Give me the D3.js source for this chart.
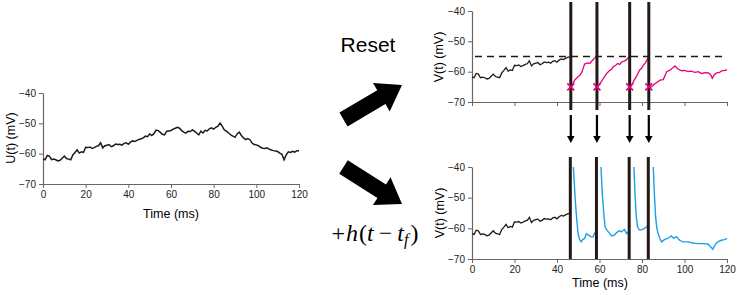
<!DOCTYPE html>
<html><head><meta charset="utf-8">
<script src="https://cdn.jsdelivr.net/npm/d3@7"></script>
<style>body{margin:0;background:#fff}svg{display:block}</style></head>
<body><svg id="c" width="737" height="295"></svg>
<script>
// ---------- data ----------
const timeTicks = [0, 20, 40, 60, 80, 100, 120];
const voltTicks = [-70, -60, -50, -40];
// U(t) sampled every 1 ms, t = 0..120
const uValues = [
 -61.7,-62.0,-60.6,-60.8,-62.0,-61.8,-62.0,-62.4,-62.2,-61.5,
 -60.8,-61.6,-61.8,-62.0,-60.4,-59.6,-58.7,-59.8,-59.4,-59.6,
 -57.9,-58.0,-57.8,-58.3,-58.0,-57.6,-57.4,-56.4,-58.1,-57.4,
 -57.2,-57.0,-57.7,-57.4,-56.8,-57.0,-56.9,-57.2,-56.6,-56.4,
 -56.9,-56.2,-55.8,-56.0,-55.6,-55.3,-55.1,-54.8,-54.2,-54.4,
 -53.5,-54.0,-53.4,-52.2,-52.4,-53.0,-53.6,-53.8,-52.6,-52.5,
 -52.4,-51.9,-51.6,-51.3,-51.6,-52.4,-52.9,-53.2,-52.6,-52.7,
 -52.2,-52.6,-53.2,-53.8,-52.6,-53.2,-52.3,-52.5,-51.8,-51.5,
 -51.9,-51.3,-50.9,-49.9,-50.9,-52.2,-52.6,-53.2,-53.8,-54.2,
 -54.6,-53.5,-52.9,-54.0,-54.8,-55.4,-55.0,-55.4,-56.5,-57.0,
 -57.1,-57.4,-57.9,-58.2,-58.3,-58.1,-58.5,-58.8,-59.0,-59.1,
 -59.3,-59.8,-60.2,-62.0,-60.4,-59.4,-59.6,-59.2,-59.5,-59.0,
 -59.0
];
const spikeTimes = [46.5, 58.8, 74.2, 83.2];
const threshold = -55;
const resetValue = -65;
// reset model V(t): [t, mV] after each reset
const resetSeg1 = [[46.6,-65],[47.2,-64.4],[48.3,-62.8],[49.6,-61.9],[51,-61.0],[51.8,-60],[52.5,-58.5],[53,-57.5],[54.3,-57.1],[55.4,-57.3],[56.5,-56.4],[57.7,-55.6],[58.7,-55]];
const resetSeg2 = [[58.9,-65],[60,-64.2],[61.3,-62.8],[62.5,-61.5],[63.4,-60.6],[64.5,-59.8],[65.7,-59.2],[66.5,-58.4],[67.8,-57.8],[68.5,-57.3],[69.5,-57.6],[70.5,-56.8],[71.6,-56.5],[72.5,-56.2],[73.3,-55.6],[74.2,-55]];
const resetSeg3 = [[74.3,-65.3],[75.5,-64],[76.3,-62.8],[77.5,-61.5],[78.8,-59.5],[79.8,-58.9],[80.5,-58],[81.5,-57.2],[82.3,-56.2],[83.1,-55]];
const resetSeg4 = [[83.3,-65.4],[84.5,-65],[85.3,-64.4],[86.9,-63.6],[88.5,-62.8],[90,-62.6],[91.6,-60],[93.2,-59.5],[94,-59],[95.5,-58.1],[96.3,-58.7],[97.1,-59.2],[98.7,-59.7],[100,-59.6],[101.8,-60],[103,-59.8],[105,-60.2],[106.5,-60.0],[108.1,-60.6],[110,-60.3],[111.2,-60.4],[112.3,-61],[113.1,-62.2],[114,-61],[115.1,-60.4],[116.5,-60.2],[117.5,-59.7],[119,-59.6],[120,-59.3]];
// kernel model V(t) = U + h(t - tf): [t, mV]
const kernelSeg1 = [[47.7,-40],[48.6,-50.8],[49.3,-57.3],[49.9,-61.6],[50.7,-63.8],[51.4,-64.4],[52.2,-63.6],[53,-63.3],[53.8,-61.8],[54.9,-62.2],[55.8,-62.7],[56.9,-62.8],[57.7,-61.6],[58.3,-61.2]];
const kernelSeg2 = [[60.7,-40],[61.3,-48.6],[62,-55.1],[62.6,-59.5],[63.4,-60.5],[64.5,-61.4],[65.7,-62.5],[67,-62.2],[68.1,-61.4],[69.2,-60.8],[70.4,-61.1],[71.7,-60.4],[72.8,-61.7],[73.6,-61.1]];
const kernelSeg3 = [[76.2,-40],[76.7,-48.6],[77.3,-56.2],[77.9,-59.5],[78.7,-60.5],[79.8,-60.5],[81.1,-60],[82.2,-59.5],[82.7,-59]];
const kernelSeg4 = [[85.3,-40],[85.8,-48.6],[86.4,-56.2],[87,-60],[87.6,-61.7],[88.4,-63.3],[89.2,-64.4],[90.7,-63.6],[92.2,-63.3],[93.8,-62.5],[94.9,-63.3],[96.2,-62.7],[97.7,-63.9],[99.3,-64.4],[101.6,-64.4],[104,-64.8],[106.3,-65],[108.6,-65],[111,-65.1],[112.5,-66.2],[113.3,-66.8],[114.4,-65.3],[115.7,-64.4],[117.3,-63.9],[118.8,-63.7],[120,-63.3]];

// ---------- drawing ----------
const svg = d3.select('#c');
const FONT = 'Liberation Sans, Arial, Helvetica, sans-serif';
const INK = '#231815', PINK = '#e6007e', BLUE = '#1aa0e6', AXIS = '#666';

const uPts = uValues.map((v, i) => [i, v]);
const preSpike = uPts.filter(d => d[0] <= 46).concat([[spikeTimes[0], threshold]]);

function panel(x0, x1, yTop, yBot, opts) {
  const x = d3.scaleLinear().domain([0, 120]).range([x0, x1]);
  const y = d3.scaleLinear().domain([-70, -40]).range([yBot, yTop]);
  const g = svg.append('g');
  const xa = g.append('g').attr('transform', `translate(0,${yBot})`)
    .call(d3.axisBottom(x).tickValues(timeTicks).tickSize(4).tickSizeOuter(0).tickPadding(3)
      .tickFormat(opts.xLabels ? d3.format('d') : ''));
  const ya = g.append('g').attr('transform', `translate(${x0},0)`)
    .call(d3.axisLeft(y).tickValues(voltTicks).tickSize(4).tickSizeOuter(0).tickPadding(3));
  [xa, ya].forEach(a => {
    a.select('.domain').attr('stroke', AXIS).attr('stroke-width', 1.2);
    a.selectAll('.tick line').attr('stroke', AXIS).attr('stroke-width', 1);
    a.selectAll('text').attr('font-family', FONT).attr('font-size', 10).attr('fill', '#222');
  });
  return {x, y, g};
}

const line = (p) => d3.line().x(d => p.x(d[0])).y(d => p.y(d[1]));

// Left panel U(t)
const L = panel(43, 299, 93, 184, {xLabels: true});
L.g.append('path').attr('d', line(L)(uPts)).attr('fill', 'none').attr('stroke', INK).attr('stroke-width', 1.5);
svg.append('text').attr('x', 171).attr('y', 218).attr('text-anchor', 'middle')
  .attr('font-family', FONT).attr('font-size', 12.5).text('Time (ms)');
svg.append('text').attr('transform', 'translate(15,138) rotate(-90)').attr('text-anchor', 'middle')
  .attr('font-family', FONT).attr('font-size', 12.5).text('U(t) (mV)');

// Top right panel: reset
const T = panel(472, 727, 11, 102, {xLabels: false});
T.g.append('line').attr('x1', T.x(0) + 3).attr('x2', T.x(120)).attr('y1', T.y(threshold)).attr('y2', T.y(threshold))
  .attr('stroke', INK).attr('stroke-width', 1.3).attr('stroke-dasharray', '7,5');
T.g.append('path').attr('d', line(T)(preSpike)).attr('fill', 'none').attr('stroke', INK).attr('stroke-width', 1.3);
[resetSeg1, resetSeg2, resetSeg3, resetSeg4].forEach(s => {
  T.g.append('path').attr('d', line(T)(s)).attr('fill', 'none').attr('stroke', PINK).attr('stroke-width', 1.3);
});
spikeTimes.forEach(t => {
  T.g.append('line').attr('x1', T.x(t)).attr('x2', T.x(t)).attr('y1', 2).attr('y2', 110)
    .attr('stroke', INK).attr('stroke-width', 3);
  const cx = T.x(t), cy = T.y(resetValue), r = 3.5;
  T.g.append('path').attr('d', `M${cx-r},${cy-r}L${cx+r},${cy+r}M${cx-r},${cy+r}L${cx+r},${cy-r}`)
    .attr('stroke', PINK).attr('stroke-width', 1.6);
});
svg.append('text').attr('transform', 'translate(443,57) rotate(-90)').attr('text-anchor', 'middle')
  .attr('font-family', FONT).attr('font-size', 12.5).text('V(t) (mV)');

// Down arrows
spikeTimes.forEach(t => {
  const cx = T.x(t);
  svg.append('line').attr('x1', cx).attr('x2', cx).attr('y1', 115).attr('y2', 137)
    .attr('stroke', '#000').attr('stroke-width', 2.2);
  svg.append('path').attr('d', `M${cx-3.8},136L${cx+3.8},136L${cx},143Z`).attr('fill', '#000');
});

// Bottom right panel: kernel
const B = panel(472, 727, 167, 259, {xLabels: true});
B.g.append('path').attr('d', line(B)(preSpike)).attr('fill', 'none').attr('stroke', INK).attr('stroke-width', 1.3);
[kernelSeg1, kernelSeg2, kernelSeg3, kernelSeg4].forEach(s => {
  B.g.append('path').attr('d', line(B)(s)).attr('fill', 'none').attr('stroke', BLUE).attr('stroke-width', 1.4);
});
spikeTimes.forEach(t => {
  B.g.append('line').attr('x1', B.x(t) - 0.5).attr('x2', B.x(t) - 0.5).attr('y1', 157).attr('y2', 259)
    .attr('stroke', INK).attr('stroke-width', 3);
});
svg.append('text').attr('x', 600).attr('y', 287).attr('text-anchor', 'middle')
  .attr('font-family', FONT).attr('font-size', 12.5).text('Time (ms)');
svg.append('text').attr('transform', 'translate(444,213) rotate(-90)').attr('text-anchor', 'middle')
  .attr('font-family', FONT).attr('font-size', 12.5).text('V(t) (mV)');

// Big arrows
function bigArrow(x1, y1, x2, y2) {
  const dx = x2 - x1, dy = y2 - y1, len = Math.hypot(dx, dy);
  const ang = Math.atan2(dy, dx) * 180 / Math.PI;
  const sw = 8, hw = 16.5, hl = 24;
  const pts = [[0,-sw],[len-hl,-sw],[len-hl,-hw],[len,0],[len-hl,hw],[len-hl,sw],[0,sw]];
  svg.append('path').attr('d', 'M' + pts.map(p => p.join(',')).join('L') + 'Z')
    .attr('transform', `translate(${x1},${y1}) rotate(${ang})`).attr('fill', '#000');
}
bigArrow(343.5, 119.5, 402, 85);
bigArrow(343.5, 167, 402, 204);

// Labels in the middle
svg.append('text').attr('x', 368).attr('y', 52).attr('text-anchor', 'middle')
  .attr('font-family', FONT).attr('font-size', 21).text('Reset');
const m = svg.append('text').attr('x', 375).attr('y', 241).attr('text-anchor', 'middle')
  .attr('font-family', 'Liberation Serif, Times New Roman, serif').attr('font-size', 24);
m.append('tspan').text('+');
m.append('tspan').attr('font-style', 'italic').attr('dx', 1).text('h');
m.append('tspan').attr('dx', 1).text('(');
m.append('tspan').attr('font-style', 'italic').text('t');
m.append('tspan').attr('dx', 5).text('−');
m.append('tspan').attr('font-style', 'italic').attr('dx', 5).text('t');
m.append('tspan').attr('font-style', 'italic').attr('font-size', 16).attr('dy', 4).text('f');
m.append('tspan').attr('dx', 2).attr('dy', -4).text(')');
</script>
</body></html>
